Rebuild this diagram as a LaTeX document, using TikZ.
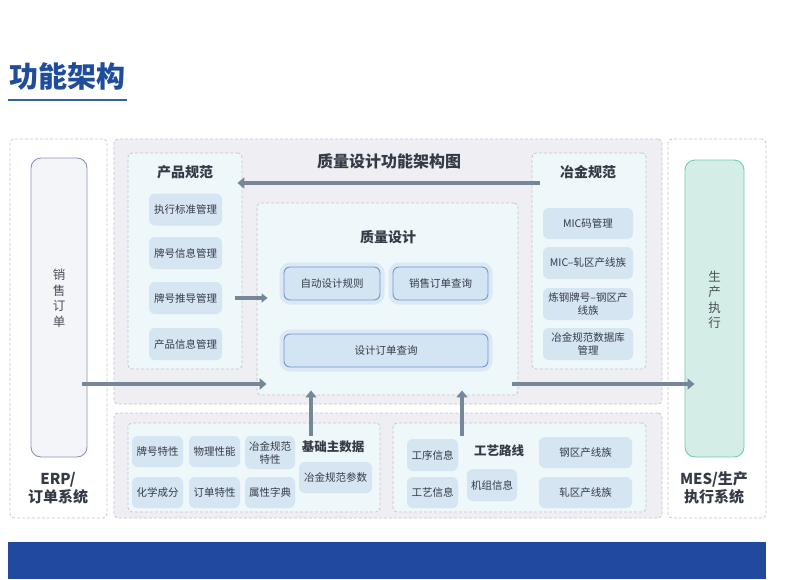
\documentclass[tikz,border=0pt]{standalone}
\usepackage{fontspec}
\setmainfont{Noto Sans CJK SC}
\usetikzlibrary{arrows.meta}

\definecolor{titleblue}{HTML}{1F4D9C}
\definecolor{dashgray}{HTML}{C6C6CB}
\definecolor{panelgray}{HTML}{EFEFF3}
\definecolor{panelblue}{HTML}{EEF7FA}
\definecolor{itemblue}{HTML}{D5E5F2}
\definecolor{textdark}{HTML}{353B46}
\definecolor{arrowgray}{HTML}{77879A}
\definecolor{btnline}{HTML}{6F97D3}
\definecolor{btnhalo}{HTML}{DCE9F4}
\definecolor{btnfill}{HTML}{D3E4F3}
\definecolor{mesfill}{HTML}{D5EDE7}
\definecolor{mesline}{HTML}{71CBB5}
\definecolor{erpfill}{HTML}{F4F5F9}
\definecolor{erpline}{HTML}{8D90C0}
\definecolor{footblue}{HTML}{214A9E}

\begin{document}
\begin{tikzpicture}[x=1pt, y=-1pt,
    zone/.style={draw=dashgray, dash pattern=on 3pt off 2pt, line width=0.8pt,
        rounded corners=4pt, inner sep=0pt},
    item/.style={fill=itemblue, rounded corners=6pt, text=textdark, align=center,
        inner sep=1pt, font=\fontsize{10.5}{13}\selectfont},
    btn/.style={fill=btnfill, draw=btnline, line width=0.9pt, rounded corners=6pt,
        preaction={draw=btnhalo, line width=9pt}, text=textdark,
        font=\fontsize{10.5}{13}\selectfont},
    head/.style={text=textdark, font=\fontsize{14}{16}\selectfont\bfseries},
    vtext/.style={text=textdark!90, align=center, font=\fontsize{12.5}{15.5}\selectfont},
    sysname/.style={text=textdark, align=center, font=\fontsize{15}{18}\selectfont\bfseries},
    flow/.style={arrowgray, line width=4.5pt, -{Triangle[width=11pt,length=7pt]}},
    thinflow/.style={arrowgray, line width=3.5pt, -{Triangle[width=9pt,length=6pt]}}]

    \useasboundingbox (0,0) rectangle (806,579);

    % Page title
    \node[text=titleblue, font=\fontsize{29}{32}\selectfont\bfseries] (ttl) at (67.5,76.5) {功能架构};
    \draw[color=titleblue!90, line width=1.6pt] (8,100) -- (127,100);

    % Outer zones
    \node[zone, fill=white, minimum width=97pt, minimum height=379pt] (erp) at (58.5,328.5) {};
    \node[zone, fill=panelgray, minimum width=548pt, minimum height=265pt] (mid) at (388,271.5) {};
    \node[zone, fill=panelgray, minimum width=548pt, minimum height=105pt] (base) at (388,465.5) {};
    \node[zone, fill=white, minimum width=98pt, minimum height=379pt] (mes) at (717,328.5) {};

    % ERP side
    \node[draw=erpline, fill=erpfill, line width=0.9pt, rounded corners=10pt,
        minimum width=56pt, minimum height=299pt] (xsdd) at (59,307.5) {};
    \node[vtext] (xsddtxt) at (59,298) {销\\售\\订\\单};
    \node[sysname] (erpname) at (58,488) {ERP/\\订单系统};

    % MES side
    \node[draw=mesline, fill=mesfill, line width=0.9pt, rounded corners=10pt,
        minimum width=59pt, minimum height=297pt] (sczx) at (714.5,308.5) {};
    \node[vtext] (sczxtxt) at (714.5,300) {生\\产\\执\\行};
    \node[sysname] (mesname) at (714,488) {MES/生产\\执行系统};

    % Diagram title
    \node[text=textdark, font=\fontsize{16}{18}\selectfont\bfseries] (maintitle) at (389,161) {质量设计功能架构图};

    % Product spec
    \node[zone, fill=panelblue, minimum width=114pt, minimum height=216pt] (cpgf) at (185,261) {};
    \node[head] (cpgftitle) at (185,172) {产品规范};
    \node[item, minimum width=73pt, minimum height=32pt] (zxbz) at (185.5,209.5) {执行标准管理};
    \node[item, minimum width=73pt, minimum height=32pt] (phxx) at (185.5,253) {牌号信息管理};
    \node[item, minimum width=73pt, minimum height=32pt] (phtd) at (185.5,298) {牌号推导管理};
    \node[item, minimum width=73pt, minimum height=32pt] (cpxx) at (185.5,344) {产品信息管理};

    % Quality design
    \node[zone, fill=panelblue, minimum width=261pt, minimum height=192pt] (zlsj) at (387.5,299) {};
    \node[head] (zlsjtitle) at (388,237) {质量设计};
    \node[btn, minimum width=96pt, minimum height=33pt] (zdsj) at (332,283.5) {自动设计规则};
    \node[btn, minimum width=95pt, minimum height=33pt] (xscx) at (440.5,283.5) {销售订单查询};
    \node[btn, minimum width=204pt, minimum height=33pt] (sjcx) at (386,350.5) {设计订单查询};

    % Metallurgical spec
    \node[zone, fill=panelblue, minimum width=114pt, minimum height=216pt] (yjgf) at (589,261) {};
    \node[head] (yjgftitle) at (588,172) {冶金规范};
    \node[item, minimum width=90pt, minimum height=31pt] (micm) at (588,223.5) {MIC码管理};
    \node[item, minimum width=90pt, minimum height=32pt] (micz) at (588,263) {MIC–轧区产线族};
    \node[item, minimum width=90pt, minimum height=32pt] (lgph) at (588,304) {炼钢牌号–钢区产\\线族};
    \node[item, minimum width=90pt, minimum height=32pt] (yjsj) at (588,344) {冶金规范数据库\\管理};

    % Base master data
    \node[zone, fill=panelblue, minimum width=252pt, minimum height=89pt] (jczsj) at (254,467.5) {};
    \node[head, font=\fontsize{12.5}{15}\selectfont\bfseries] (jctitle) at (333,447) {基础主数据};
    \node[item, minimum width=51pt, minimum height=31pt] (phtx) at (157.5,451.5) {牌号特性};
    \node[item, minimum width=51pt, minimum height=31pt] (wlxn) at (214.5,451.5) {物理性能};
    \node[item, minimum width=50pt, minimum height=33pt] (yjtx) at (270,452.5) {冶金规范\\特性};
    \node[item, minimum width=51pt, minimum height=31pt] (hxcf) at (157.5,492.5) {化学成分};
    \node[item, minimum width=51pt, minimum height=31pt] (ddtx) at (214.5,492.5) {订单特性};
    \node[item, minimum width=50pt, minimum height=31pt] (sxzd) at (270,492.5) {属性字典};
    \node[item, minimum width=73pt, minimum height=31pt] (yjcs) at (335.5,477.5) {冶金规范参数};

    % Process route
    \node[zone, fill=panelblue, minimum width=253pt, minimum height=89pt] (gylx) at (519.5,467.5) {};
    \node[head, font=\fontsize{12.5}{15}\selectfont\bfseries] (gytitle) at (499,451) {工艺路线};
    \node[item, minimum width=51pt, minimum height=32pt] (gxxx) at (432.5,455) {工序信息};
    \node[item, minimum width=51pt, minimum height=31pt] (gyxx) at (432.5,492.5) {工艺信息};
    \node[item, minimum width=50pt, minimum height=32pt] (jzxx) at (492,485) {机组信息};
    \node[item, minimum width=93pt, minimum height=31pt] (gqcx) at (585.5,452.5) {钢区产线族};
    \node[item, minimum width=93pt, minimum height=31pt] (zqcx) at (585.5,492.5) {轧区产线族};

    % Arrows
    \coordinate (toprow) at (0,183);
    \coordinate (lowrow) at (0,384);
    \coordinate (up1) at (311,436);
    \coordinate (up2) at (462,436);
    \draw[flow, shorten <=-8pt, shorten >=-5pt] (yjgf.west |- toprow) -- (cpgf.east |- toprow);
    \draw[thinflow, shorten <=13pt, shorten >=-11pt] (phtd.east) -- (zlsj.west |- phtd.east);
    \draw[flow, shorten <=-5pt, shorten >=-10pt] (xsdd.east |- lowrow) -- (zlsj.west |- lowrow);
    \draw[flow, shorten <=-6pt, shorten >=-10pt] (zlsj.east |- lowrow) -- (sczx.west |- lowrow);
    \draw[flow, line width=4pt, shorten >=-5pt] (up1) -- (up1 |- zlsj.south);
    \draw[flow, line width=4pt, shorten >=-5pt] (up2) -- (up2 |- zlsj.south);

    % Footer band
    \fill[footblue] (8,542) rectangle (766,579);

\end{tikzpicture}
\end{document}
